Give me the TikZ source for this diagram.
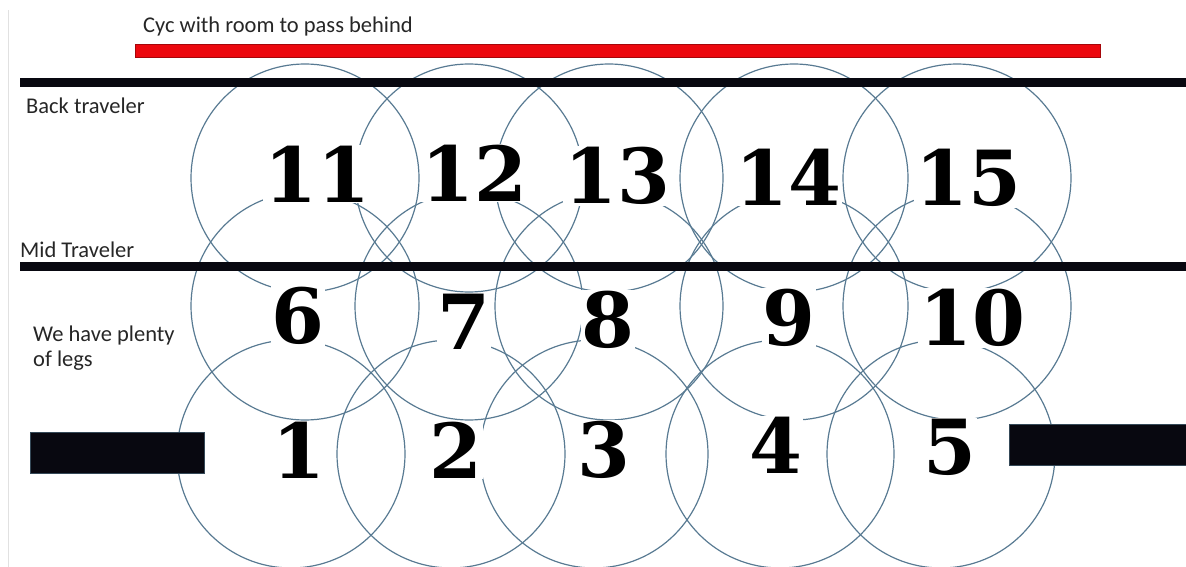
\documentclass[tikz,border=0pt]{standalone}
\usepackage{fontspec}
\setmainfont{Carlito}
\newfontfamily\digitfont{DejaVu Serif}
\usetikzlibrary{positioning}
\definecolor{legblue}{RGB}{88,122,146}
\definecolor{cycred}{RGB}{236,8,14}
\definecolor{bardark}{RGB}{8,8,16}
\definecolor{edgegray}{RGB}{225,225,225}
\tikzset{
  legcircle/.style={draw=legblue, line width=1.2pt},
  legnum/.style={font=\digitfont\bfseries\fontsize{76}{80}\selectfont,
    fill=white, inner sep=1pt},
  note/.style={font=\fontsize{22.5}{26}\selectfont, anchor=base west,
    inner sep=0pt, align=left, text=black!85},
  traveler/.style={draw=bardark, line width=9pt},
  wing/.style={fill=bardark, draw=legblue!60!black, line width=0.6pt}
}

\begin{document}
\begin{tikzpicture}[x=1pt, y=-1pt]
  \useasboundingbox (0,0) rectangle (1186,567);
  \draw[edgegray, line width=1pt] (8,10) -- (8,567);

  % leg circles, back / mid / front rows
  \foreach \cx in {305,469,609,794,957}
    \draw[legcircle] (\cx,178) circle [radius=114pt];
  \foreach \cx in {305,469,609,794,957}
    \draw[legcircle] (\cx,306) circle [radius=114pt];
  \foreach \cx in {291,451,594,780,941}
    \draw[legcircle] (\cx,454) circle [radius=114pt];

  % travelers and cyc
  \draw[traveler] (20,82.5) -- (1186,82.5);
  \draw[traveler] (20,266.5) -- (1186,266.5);
  \fill[cycred, draw=cycred!70!black, line width=0.5pt] (135,44) rectangle (1100,57);

  % wings
  \draw[wing] (30,432) rectangle (204,473);
  \draw[wing] (1009,424) rectangle (1186,465);

  % leg numbers
  \foreach \num/\nx/\ny in {11/317/174, 12/474/173, 13/617/176, 14/788/177, 15/968/178,
                           6/298/316, 7/464/322, 8/608/320, 9/789/318, 10/972/318,
                           1/299/450, 2/456/450, 3/604/450, 4/776/445, 5/950/447}
    \node[legnum] (n\num) at (\nx,\ny) {\num};

  % notes
  \node[note] (cyc) at (143,33) {Cyc with room to pass behind};
  \node[note] (back) at (26,114) {Back traveler};
  \node[note] (mid) at (20,257) {Mid Traveler};
  \node[note] (legs) at (33,341) {We have plenty};
  \node[note] (legs2) at (33,366) {of legs};
\end{tikzpicture}
\end{document}
